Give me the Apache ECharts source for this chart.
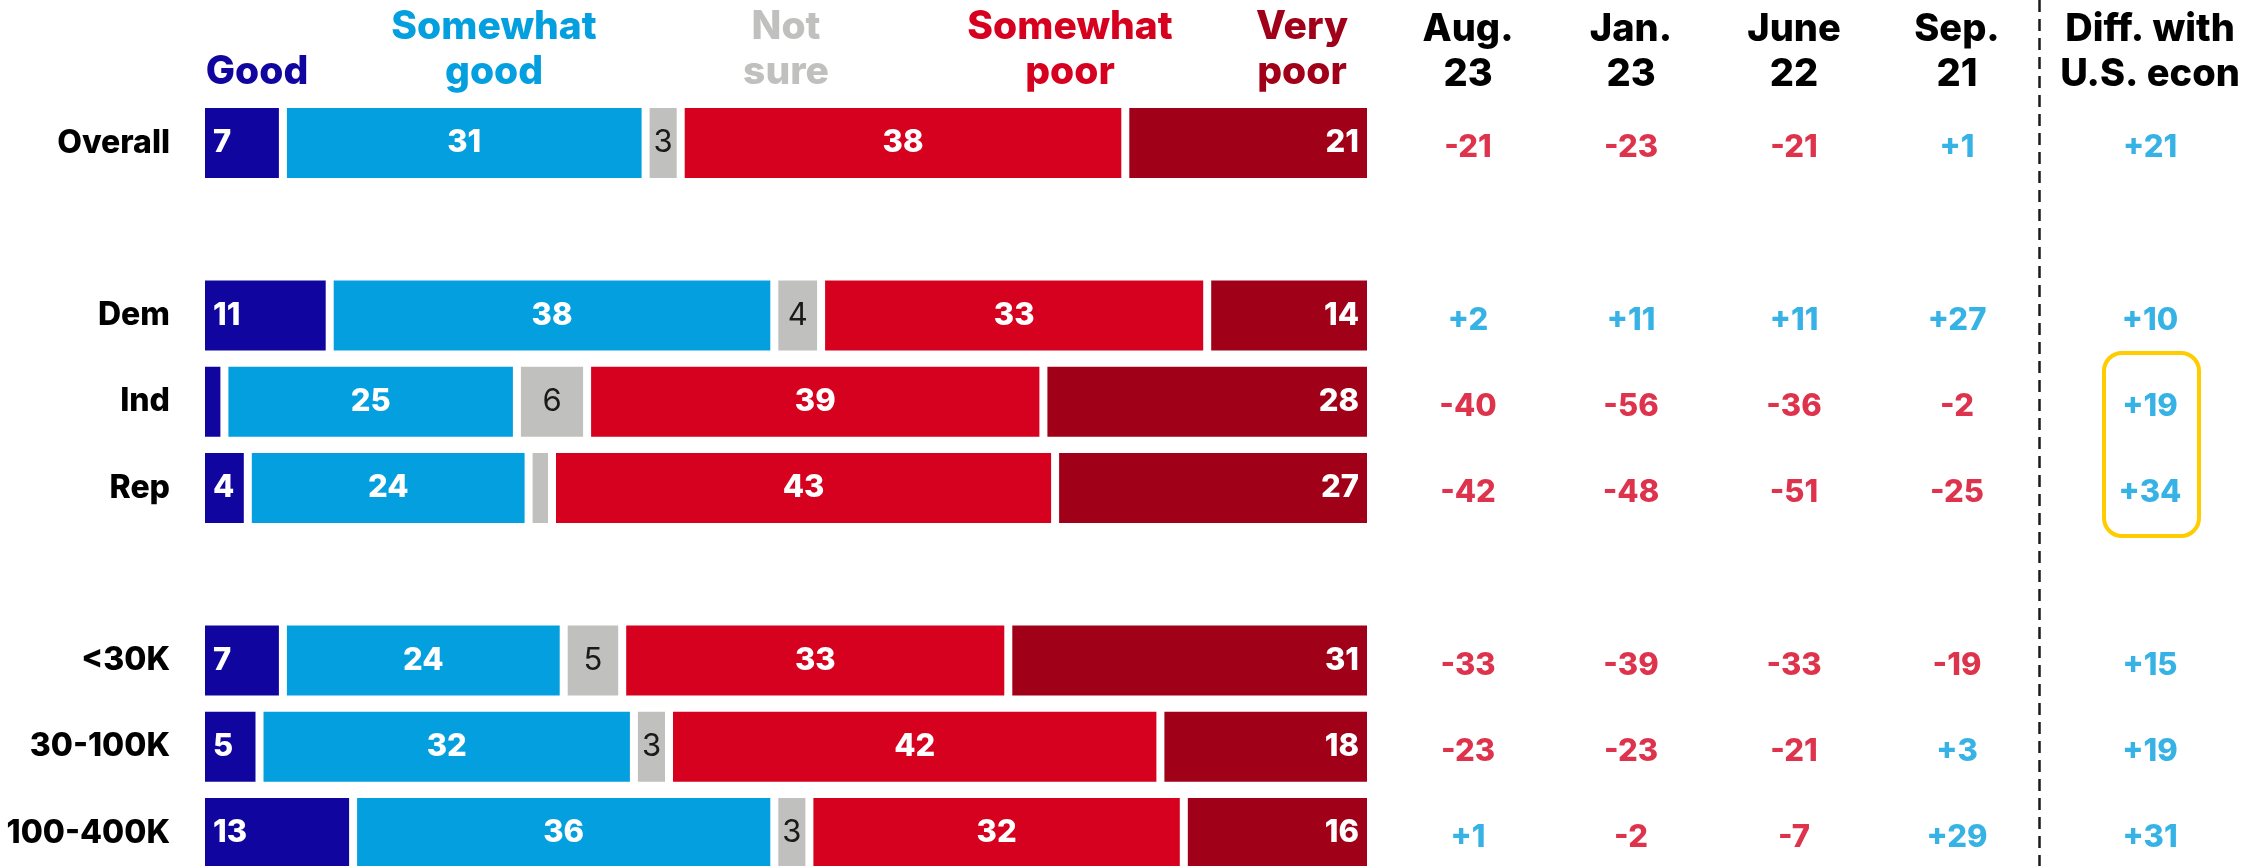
<!DOCTYPE html>
<html>
<head>
<meta charset="utf-8">
<script src="https://cdn.jsdelivr.net/npm/echarts@6/dist/echarts.min.js"></script>
<style>
  html, body { margin: 0; padding: 0; background: #ffffff; }
  #chart { width: 2261px; height: 866px; }
</style>
</head>
<body>
<div id="chart"></div>
<script>
// Rows (blank strings are spacer rows between the groups)
const rows = ['Overall', '', 'Dem', 'Ind', 'Rep', ' ', '<30K', '30-100K', '100-400K'];

// Share of respondents rating their local economy (percent)
const good         = [7,  '-', 11, 2,  4,  '-', 7,  5,  13];
const somewhatGood = [31, '-', 38, 25, 24, '-', 24, 32, 36];
const notSure      = [3,  '-', 4,  6,  2,  '-', 5,  3,  3];
const somewhatPoor = [38, '-', 33, 39, 43, '-', 33, 42, 32];
const veryPoor     = [21, '-', 14, 28, 27, '-', 31, 18, 16];

// Net rating (good minus poor) by survey wave
const periods = ['Aug.\n23', 'Jan.\n23', 'June\n22', 'Sep.\n21'];
const netAug23  = [-21, null, 2,  -40, -42, null, -33, -23, 1];
const netJan23  = [-23, null, 11, -56, -48, null, -39, -23, -2];
const netJune22 = [-21, null, 11, -36, -51, null, -33, -21, -7];
const netSep21  = [1,   null, 27, -2,  -25, null, -19, 3,   29];

// Difference between local and national economy ratings
const diffTitle = ['Diff. with\nU.S. econ'];
const diffUS = [21, null, 10, 19, 34, null, 15, 19, 31];

const FONT = 'Inter, "Open Sans", sans-serif';
const BLUE = '#049FDE';
const RED = '#D6001F';

const segments = [
  { name: 'Good',          data: good,         color: '#10069F', pos: 'insideLeft',  label: '#ffffff', weight: 800 },
  { name: 'Somewhat good', data: somewhatGood, color: BLUE,      pos: 'inside',      label: '#ffffff', weight: 800 },
  { name: 'Not sure',      data: notSure,      color: '#C0C0BF', pos: 'inside',      label: '#1a1a1a', weight: 'normal' },
  { name: 'Somewhat poor', data: somewhatPoor, color: RED,       pos: 'inside',      label: '#ffffff', weight: 800 },
  { name: 'Very poor',     data: veryPoor,     color: '#A00018', pos: 'insideRight', label: '#ffffff', weight: 800 }
];

const signed = v => (v > 0 ? '+' + v : String(v));

function tablePoints(columns) {
  const pts = [];
  columns.forEach((col, c) => {
    col.forEach((v, r) => {
      if (v === null) return;
      pts.push({ value: [c, r, v], label: { color: v >= 0 ? BLUE : RED } });
    });
  });
  return pts;
}

const gridTop = 100;
const gridHeight = 776;

const barSeries = segments.map(s => ({
  type: 'bar',
  name: s.name,
  stack: 'total',
  data: s.data,
  barWidth: 78,
  xAxisIndex: 0,
  yAxisIndex: 0,
  silent: true,
  itemStyle: { color: s.color, borderColor: '#ffffff', borderWidth: 4 },
  label: {
    show: true,
    position: s.pos,
    distance: 12,
    color: s.label,
    fontFamily: FONT,
    fontWeight: s.weight,
    fontSize: 31,
    formatter: p => (typeof p.value === 'number' && p.value >= 3 ? String(p.value) : '')
  }
}));

const tableLabel = {
  show: true,
  position: 'inside',
  offset: [0, 5],
  fontFamily: FONT,
  fontWeight: 800,
  fontSize: 31,
  formatter: p => signed(p.value[2])
};

const headerStyle = (text, x, baseline, color) => ({
  type: 'text',
  x: x,
  y: baseline - 10,
  silent: true,
  style: {
    text: text,
    fill: color,
    font: '800 39px ' + FONT,
    align: 'center',
    verticalAlign: 'middle'
  }
});

const columnLabel = { fontFamily: FONT, fontWeight: 800, fontSize: 38, lineHeight: 45, color: '#000', margin: 3, interval: 0 };

const chart = echarts.init(document.getElementById('chart'), null, { renderer: 'canvas' });

chart.setOption({
  animation: false,
  backgroundColor: '#ffffff',
  grid: [
    { left: 201, width: 1170, top: gridTop, height: gridHeight, outerBoundsMode: 'none', containLabel: false },
    { left: 1386.5, width: 652, top: gridTop, height: gridHeight, outerBoundsMode: 'none', containLabel: false },
    { left: 2039, width: 222, top: gridTop, height: gridHeight, outerBoundsMode: 'none', containLabel: false }
  ],
  xAxis: [
    { gridIndex: 0, type: 'value', min: 0, max: 100, show: false },
    {
      gridIndex: 1, type: 'category', data: periods, position: 'top',
      axisLine: { show: false }, axisTick: { show: false }, splitLine: { show: false },
      axisLabel: columnLabel
    },
    {
      gridIndex: 2, type: 'category', data: diffTitle, position: 'top',
      axisLine: { show: false }, axisTick: { show: false }, splitLine: { show: false },
      axisLabel: columnLabel
    }
  ],
  yAxis: [
    {
      gridIndex: 0, type: 'category', data: rows, inverse: true,
      axisLine: { show: false }, axisTick: { show: false }, splitLine: { show: false },
      axisLabel: { fontFamily: FONT, fontWeight: 800, fontSize: 32, color: '#000', margin: 31, interval: 0 }
    },
    { gridIndex: 1, type: 'category', data: rows, inverse: true, show: false },
    { gridIndex: 2, type: 'category', data: rows, inverse: true, show: false }
  ],
  series: barSeries.concat([
    {
      type: 'scatter', name: 'Net rating', xAxisIndex: 1, yAxisIndex: 1, silent: true,
      symbolSize: 1, itemStyle: { color: 'rgba(0,0,0,0)' },
      label: tableLabel,
      data: tablePoints([netAug23, netJan23, netJune22, netSep21])
    },
    {
      type: 'scatter', name: 'Diff. with U.S. econ', xAxisIndex: 2, yAxisIndex: 2, silent: true,
      symbolSize: 1, itemStyle: { color: 'rgba(0,0,0,0)' },
      label: tableLabel,
      data: tablePoints([diffUS])
    }
  ]),
  graphic: [
    headerStyle('Good', 257, 82, '#10069F'),
    headerStyle('Somewhat', 494, 37, BLUE),
    headerStyle('good', 494, 82, BLUE),
    headerStyle('Not', 786, 37, '#C0C0BF'),
    headerStyle('sure', 786, 82, '#C0C0BF'),
    headerStyle('Somewhat', 1070, 37, RED),
    headerStyle('poor', 1070, 82, RED),
    headerStyle('Very', 1302, 37, '#A00018'),
    headerStyle('poor', 1302, 82, '#A00018'),
    {
      type: 'line', silent: true,
      shape: { x1: 2039.5, y1: 0, x2: 2039.5, y2: 866 },
      style: { stroke: '#1a1a1a', lineWidth: 2.5, lineDash: [12, 7] }
    },
    {
      type: 'rect', silent: true,
      shape: { x: 2104, y: 353, width: 95, height: 183, r: 18 },
      style: { fill: 'none', stroke: '#FFCC00', lineWidth: 4 }
    }
  ]
});
</script>
</body>
</html>
